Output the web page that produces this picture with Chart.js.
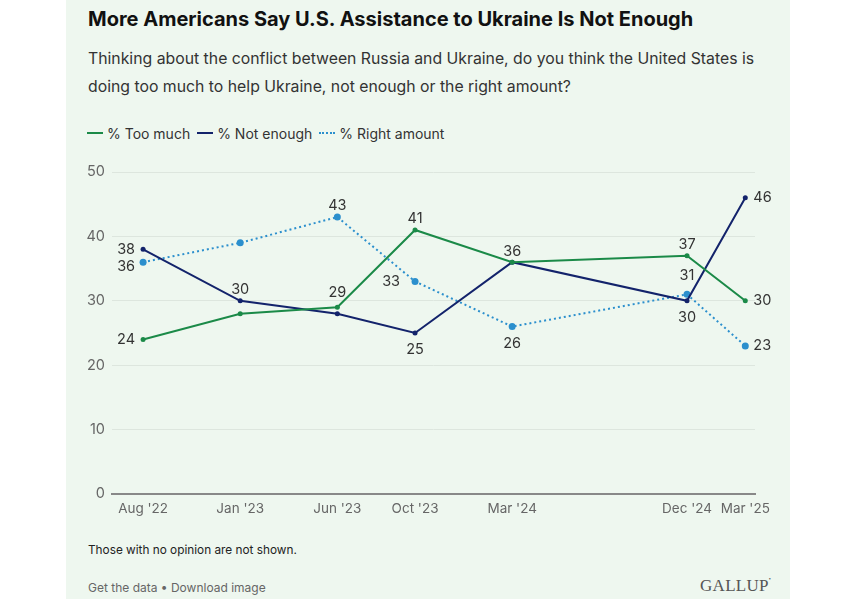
<!DOCTYPE html>
<html>
<head>
<meta charset="utf-8">
<script src="https://cdn.jsdelivr.net/npm/chart.js@4.4.1/dist/chart.umd.min.js"></script>
<style>
  html, body { margin:0; padding:0; background:#ffffff; width:860px; height:599px; overflow:hidden; font-family: Inter, "Noto Sans", sans-serif; }
  #panel { position:absolute; left:66px; top:0; width:724px; height:599px; background:#eef7ef; }
  #title { position:absolute; left:88px; top:7px; font-size:20px; font-weight:700; color:#111; letter-spacing:0px; white-space:nowrap; }
  #subtitle { position:absolute; left:88px; top:45px; font-size:15.8px; line-height:28px; color:#333; width:700px; }
  #legend { position:absolute; left:87px; top:120px; font-size:14px; color:#333; white-space:nowrap; }
  #legend span.item { display:inline-flex; align-items:center; margin-right:7px; }
  #legend span.sw { display:inline-block; width:16px; height:0; margin-right:4px; }
  #note { position:absolute; left:88px; top:543px; font-size:11.8px; color:#222; }
  #links { position:absolute; left:88px; top:580px; font-size:12px; color:#666; }
  #logo { position:absolute; left:700px; top:576px; font-family:"Liberation Serif", "DejaVu Serif", serif; font-size:17px; color:#555; letter-spacing:0.3px; }
  #wrap { position:absolute; left:66px; top:150px; width:724px; height:370px; }
</style>
</head>
<body>
<div id="panel"></div>
<div id="title">More Americans Say U.S. Assistance to Ukraine Is Not Enough</div>
<div id="subtitle">Thinking about the conflict between Russia and Ukraine, do you think the United States is doing too much to help Ukraine, not enough or the right amount?</div>
<div id="legend"></div>
<div id="wrap"><canvas id="c"></canvas></div>
<div id="note">Those with no opinion are not shown.</div>
<div id="links">Get the data • Download image</div>
<div id="logo">GALLUP<span style="font-size:6px;vertical-align:top">&#8226;</span></div>
<script>
// ---- data ----
const categories = ["Aug '22", "Jan '23", "Jun '23", "Oct '23", "Mar '24", "Dec '24", "Mar '25"];
const monthIndex = [0, 5, 10, 14, 19, 28, 31]; // months since Aug 2022
const tooMuch    = [24, 28, 29, 41, 36, 37, 30];
const notEnough  = [38, 30, 28, 25, 36, 30, 46];
const rightAmount= [36, 39, 43, 33, 26, 31, 23];
const yTicks = [0, 10, 20, 30, 40, 50];
const seriesNames = ["% Too much", "% Not enough", "% Right amount"];

// label placement (a = above, b = below, l = left, r = right, null = none)
const labelPlacement = {
  0: ['l', null, 'a', 'a', null, 'a', 'r'],
  1: ['l', 'a', null, 'b', 'a', 'b', 'r'],
  2: ['l', null, 'a', 'l', 'b', 'a', 'r']
};
const labelNudge = { '0-2': [0,-4], '2-0': [0,4], '2-3': [-7,0], '2-5': [0,-8] };

const GREEN = '#1b8a48', NAVY = '#13236b', BLUE = '#2b8fcd';

function pts(vals){ return vals.map((v,i)=>({x: monthIndex[i], y: v})); }

// HTML legend
const lg = document.getElementById('legend');
const legendStyles = [
  {c:GREEN, s:'solid', w:2.5}, {c:NAVY, s:'solid', w:2.5}, {c:BLUE, s:'dotted', w:2}
];
seriesNames.forEach((n,i)=>{
  const it = document.createElement('span'); it.className='item';
  const sw = document.createElement('span'); sw.className='sw';
  sw.style.borderTop = legendStyles[i].w + 'px ' + legendStyles[i].s + ' ' + legendStyles[i].c;
  it.appendChild(sw); it.appendChild(document.createTextNode(n)); lg.appendChild(it);
});

const labelPlugin = {
  id: 'pointLabels',
  afterDatasetsDraw(chart){
    const ctx = chart.ctx;
    ctx.save();
    ctx.font = '14.5px Inter, "Noto Sans", sans-serif';
    ctx.fillStyle = '#333';
    chart.data.datasets.forEach((ds, di)=>{
      const meta = chart.getDatasetMeta(di);
      meta.data.forEach((el, i)=>{
        const p = labelPlacement[di][i];
        if (!p) return;
        let x = el.x, y = el.y;
        if (p==='a'){ ctx.textAlign='center'; ctx.textBaseline='middle'; y -= 11; }
        else if (p==='b'){ ctx.textAlign='center'; ctx.textBaseline='middle'; y += 17; }
        else if (p==='l'){ ctx.textAlign='right'; ctx.textBaseline='middle'; x -= 8; }
        else if (p==='r'){ ctx.textAlign='left'; ctx.textBaseline='middle'; x += 8; }
        const n = labelNudge[di+'-'+i];
        if (n){ x += n[0]; y += n[1]; }
        ctx.fillText(String(ds.data[i].y), x, y);
      });
    });
    ctx.restore();
  }
};

new Chart(document.getElementById('c'), {
  type: 'line',
  data: {
    datasets: [
      { label: seriesNames[0], data: pts(tooMuch), borderColor: GREEN, backgroundColor: GREEN, borderWidth: 2, pointRadius: 2.5, pointBorderWidth: 0, tension: 0 },
      { label: seriesNames[1], data: pts(notEnough), borderColor: NAVY, backgroundColor: NAVY, borderWidth: 2, pointRadius: 2.5, pointBorderWidth: 0, tension: 0 },
      { label: seriesNames[2], data: pts(rightAmount), borderColor: BLUE, backgroundColor: BLUE, borderWidth: 2, borderDash: [2, 3], pointRadius: 3.5, pointBorderWidth: 0, tension: 0 }
    ]
  },
  options: {
    responsive: true, maintainAspectRatio: false, animation: false,
    layout: { padding: { left: 0, right: 35, top: 22, bottom: 0 } },
    plugins: { legend: { display: false }, tooltip: { enabled: false } },
    scales: {
      x: {
        type: 'linear', min: -1.6, max: 31.5,
        afterBuildTicks(s){ s.ticks = monthIndex.map(v=>({value:v})); },
        afterFit(s){ s.height = 26; },
        ticks: {
          autoSkip: false, maxRotation: 0, padding: 7, color: '#666',
          font: { size: 13.5, family: 'Inter, "Noto Sans", sans-serif' },
          callback(v){ const k = monthIndex.indexOf(v); return k>=0 ? categories[k] : ''; }
        },
        grid: { display: false, drawTicks: false },
        border: { display: true, color: '#888', width: 2 }
      },
      y: {
        min: 0, max: 50,
        afterBuildTicks(s){ s.ticks = yTicks.map(v=>({value:v})); },
        afterFit(s){ s.width = 46; },
        ticks: { padding: 7, color: '#666', font: { size: 14.5, family: 'Inter, "Noto Sans", sans-serif' } },
        grid: { color: '#dde6de', lineWidth: 1, drawTicks: false },
        border: { display: false }
      }
    }
  },
  plugins: [labelPlugin]
});
</script>
</body>
</html>
